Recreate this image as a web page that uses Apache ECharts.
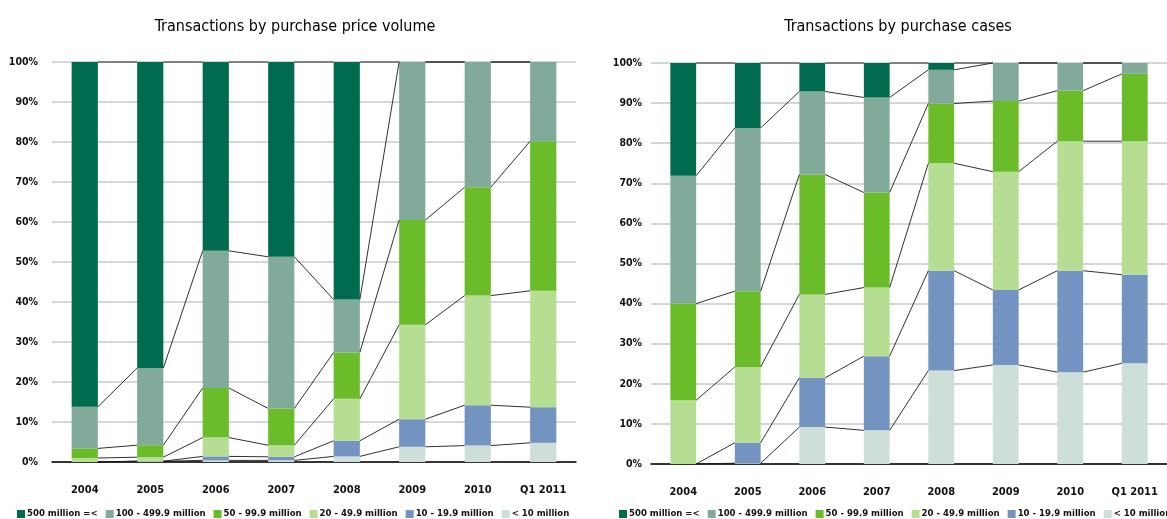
<!DOCTYPE html>
<html><head><meta charset="utf-8">
<script src="https://cdn.jsdelivr.net/npm/echarts@6/dist/echarts.min.js"></script>
<style>html,body{margin:0;padding:0;background:#fff}#c{width:1167px;height:519px}</style>
</head><body><div id="c"></div>
<script>
var categories = ['2004','2005','2006','2007','2008','2009','2010','Q1 2011'];
var seriesNames = ['500 million =<','100 - 499.9 million','50 - 99.9 million','20 - 49.9 million','10 - 19.9 million','< 10 million'];
var colors = ['#006b4e','#82aa9b','#6abd28','#b5de93','#7393c1','#cddfd8'];
var yTicks = [0,10,20,30,40,50,60,70,80,90,100];

// Transactions by purchase price volume (% share), bottom to top
var volLt10    = [0.0, 0.2, 0.4, 0.4, 1.4, 3.8, 4.1, 4.8];
var vol10to20  = [0.0, 0.0, 1.0, 0.9, 3.9, 6.9, 10.1, 8.9];
var vol20to50  = [1.0, 1.0, 4.7, 2.9, 10.5, 23.6, 27.4, 29.1];
var vol50to100 = [2.4, 3.0, 12.4, 9.2, 11.6, 26.2, 27.1, 37.4];
var vol100to500= [10.4, 19.3, 34.3, 37.9, 13.2, 39.5, 31.3, 19.8];
var vol500plus = [86.2, 76.5, 47.2, 48.7, 59.4, 0.0, 0.0, 0.0];

// Transactions by purchase cases (% share), bottom to top
var casLt10    = [0.0, 0.2, 9.2, 8.4, 23.3, 24.7, 22.9, 25.1];
var cas10to20  = [0.0, 5.1, 12.3, 18.5, 24.9, 18.7, 25.3, 22.1];
var cas20to50  = [15.9, 18.9, 20.8, 17.1, 26.8, 29.5, 32.3, 33.3];
var cas50to100 = [24.1, 18.9, 29.9, 23.7, 14.9, 17.6, 12.6, 16.8];
var cas100to500= [31.9, 40.7, 20.7, 23.7, 8.4, 9.5, 6.9, 2.7];
var cas500plus = [28.1, 16.2, 7.1, 8.6, 1.7, 0.0, 0.0, 0.0];

var volBands = [volLt10, vol10to20, vol20to50, vol50to100, vol100to500, vol500plus];
var casBands = [casLt10, cas10to20, cas20to50, cas50to100, cas100to500, cas500plus];
var bandNames = seriesNames.slice().reverse();
var bandColors = colors.slice().reverse();

var FONT = '"DejaVu Sans Condensed", "DejaVu Sans", sans-serif';

function cumTops(bands){
  var tops = []; var run = categories.map(function(){return 0;});
  bands.forEach(function(b){
    run = run.map(function(v,i){return v + b[i];});
    tops.push(run.slice());
  });
  return tops;
}
function lineData(bands){
  var tops = cumTops(bands); var d = [];
  tops.forEach(function(t){
    for (var i=0;i<categories.length-1;i++) d.push([i, t[i], t[i+1]]);
  });
  return d;
}
function renderLine(params, api){
  var i = api.value(0);
  var p0 = api.coord([i, api.value(1)]);
  var p1 = api.coord([i+1, api.value(2)]);
  var bw = api.size([1,0])[0]*0.4/2;
  return {type:'line', shape:{x1:p0[0]+bw, y1:p0[1], x2:p1[0]-bw, y2:p1[1]},
          style:{stroke:'#1a1a1a', lineWidth:0.9}};
}

var grids = [
  {left:52, right:591, top:62, bottom:57},
  {left:651, right:-9, top:63, bottom:55}
];
function xAx(g){return {type:'category', gridIndex:g, data:categories,
  axisTick:{show:false}, axisLine:{lineStyle:{color:'#000', width:1.5}},
  axisLabel:{interval:0, margin:23, color:'#111', fontFamily:FONT, fontWeight:'bold', fontSize:11}};}
function yAx(g, m){return {type:'value', gridIndex:g, min:yTicks[0], max:yTicks[yTicks.length-1], interval:10,
  axisLine:{show:false}, axisTick:{show:false},
  splitLine:{lineStyle:{color:'#c6cacd', width:1.5}},
  axisLabel:{margin:m, color:'#111', fontFamily:FONT, fontWeight:'bold', fontSize:10.5, formatter:'{value}%'}};}

var series = [];
[volBands, casBands].forEach(function(bands, g){
  bands.forEach(function(b, k){
    series.push({type:'bar', name:bandNames[k], xAxisIndex:g, yAxisIndex:g, stack:'s'+g,
      barWidth:'40%', data:b, itemStyle:{color:bandColors[k]}, z:2});
  });
  series.push({type:'custom', xAxisIndex:g, yAxisIndex:g, renderItem:renderLine,
    data:lineData(bands), encode:{x:0, y:[1,2]}, z:3, silent:true});
});

function legend(left){return {left:left, top:507, width:800, itemWidth:8, itemHeight:8, itemGap:8, icon:'rect', padding:[2,0,2,0],
  data:seriesNames, textStyle:{fontFamily:FONT, fontWeight:'bold', fontSize:9.5, color:'#111', padding:[0,0,0,-3]}};}

var chart = echarts.init(document.getElementById('c'));
chart.setOption({
  animation:false,
  color:colors,
  title:[
    {text:'Transactions by purchase price volume', left:290, top:14, textAlign:'center',
     textStyle:{fontFamily:FONT, fontWeight:'normal', fontSize:16, color:'#000'}},
    {text:'Transactions by purchase cases', left:893, top:14, textAlign:'center',
     textStyle:{fontFamily:FONT, fontWeight:'normal', fontSize:16, color:'#000'}}
  ],
  legend:[legend(17), legend(619)],
  grid:grids,
  xAxis:[xAx(0), xAx(1)],
  yAxis:[yAx(0,14), yAx(1,9)],
  series:series
});
</script></body></html>
